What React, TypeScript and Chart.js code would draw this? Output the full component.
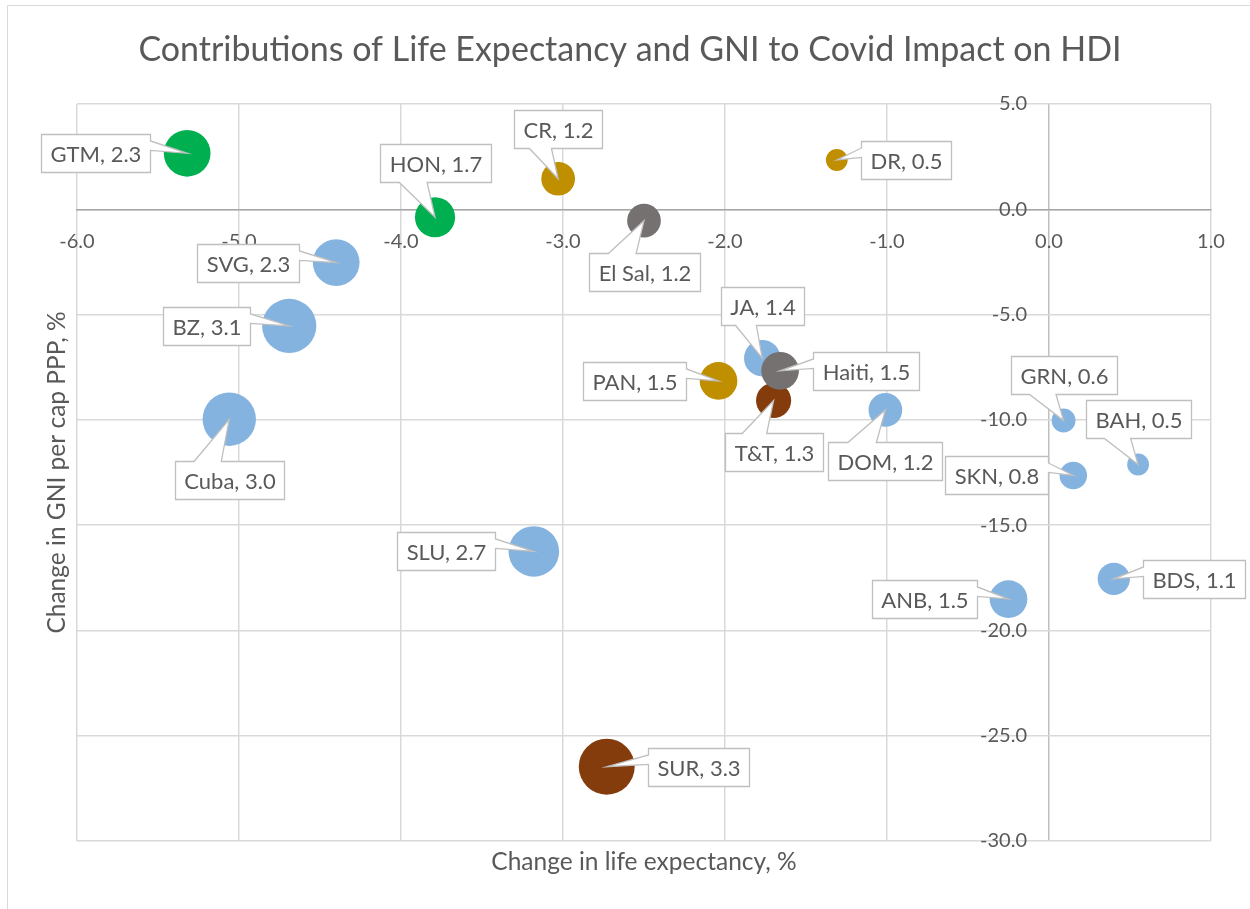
import React, { useEffect, useRef } from 'react';
import { Chart, registerables } from 'chart.js';

Chart.register(...registerables);

// ---- Data ----
const countries = ['GTM', 'HON', 'SVG', 'BZ', 'Cuba', 'SLU', 'SUR', 'CR', 'DR', 'El Sal', 'JA', 'Haiti', 'PAN', 'T&T', 'DOM', 'GRN', 'BAH', 'SKN', 'BDS', 'ANB'];
const lifeExpChange = [-5.32, -3.79, -4.40, -4.69, -5.06, -3.18, -2.73, -3.03, -1.31, -2.50, -1.77, -1.66, -2.04, -1.70, -1.01, 0.09, 0.55, 0.15, 0.40, -0.25];
const gniChange = [2.66, -0.38, -2.53, -5.54, -9.97, -16.25, -26.47, 1.45, 2.34, -0.54, -7.07, -7.67, -8.15, -9.08, -9.53, -10.03, -12.12, -12.64, -17.55, -18.51];
const hdiImpact = [2.3, 1.7, 2.3, 3.1, 3.0, 2.7, 3.3, 1.2, 0.5, 1.2, 1.4, 1.5, 1.5, 1.3, 1.2, 0.6, 0.5, 0.8, 1.1, 1.5];
const groups = ['G2', 'G2', 'G1', 'G1', 'G1', 'G1', 'G4', 'G3', 'G3', 'G5', 'G1', 'G5', 'G3', 'G4', 'G1', 'G1', 'G1', 'G1', 'G1', 'G1'];
const xTickLabels = ['-6.0', '-5.0', '-4.0', '-3.0', '-2.0', '-1.0', '0.0', '1.0'];

const TITLE = 'Contributions of Life Expectancy and GNI to Covid Impact on HDI';
const X_TITLE = 'Change in life expectancy, %';
const Y_TITLE = 'Change in GNI per cap PPP, %';

// ---- Styles / layout ----
const groupOrder = ['G5', 'G4', 'G3', 'G2', 'G1']; // first drawn on top
const groupColors: Record<string, string> = {
  G1: '#85B3E0',
  G2: '#00B050',
  G3: '#BF8F00',
  G4: '#843C0C',
  G5: '#767171',
};
// callout box centre offset from bubble centre, in pixels
const labelOffsets: [number, number][] = [
  [-92, 0], [0, -54], [-88, 0], [-83, 0], [0, 61], [-88, 0], [92, 0], [0, -50], [69, 0], [0, 51],
  [0, -52], [86, 0], [-84, 0], [0, 52], [0, 51], [0, -45], [0, -45], [-77, 0], [80, 0], [-84, 0],
];
const BUBBLE_K = 15.4;
const FONT = 'Lato, "Open Sans", sans-serif';
const TEXT = '#595959';

const calloutPlugin = {
  id: 'callouts',
  beforeDraw(chart: any) {
    const ctx = chart.ctx;
    ctx.save();
    ctx.fillStyle = '#ffffff';
    ctx.fillRect(0, 0, chart.width, chart.height);
    ctx.strokeStyle = '#d9d9d9';
    ctx.lineWidth = 1;
    ctx.beginPath();
    ctx.moveTo(7.5, chart.height);
    ctx.lineTo(7.5, 5.5);
    ctx.lineTo(chart.width, 5.5);
    ctx.stroke();
    ctx.restore();
  },
  afterDraw(chart: any) {
    const ctx = chart.ctx;
    const area = chart.chartArea;
    ctx.save();
    ctx.fillStyle = TEXT;
    ctx.textAlign = 'center';
    ctx.textBaseline = 'alphabetic';
    ctx.font = `34px ${FONT}`;
    ctx.fillText(TITLE, 630, 61);
    ctx.textBaseline = 'middle';
    ctx.font = `24.5px ${FONT}`;
    ctx.fillText(X_TITLE, (area.left + area.right) / 2, 862);
    ctx.translate(57, (area.top + area.bottom) / 2);
    ctx.rotate(-Math.PI / 2);
    ctx.fillText(Y_TITLE, 0, 0);
    ctx.restore();
  },
  afterDatasetsDraw(chart: any) {
    const ctx = chart.ctx;
    ctx.save();
    ctx.font = `22px ${FONT}`;
    chart.data.datasets.forEach((ds: any, di: number) => {
      const meta = chart.getDatasetMeta(di);
      meta.data.forEach((el: any, j: number) => {
        const i = ds.data[j].idx;
        const text = `${countries[i]}, ${hdiImpact[i].toFixed(1)}`;
        const [dx, dy] = labelOffsets[i];
        const px = el.x;
        const py = el.y;
        const tw = ctx.measureText(text).width;
        const w = Math.round(tw + 18);
        const h = 38;
        const l = Math.round(px + dx - w / 2) + 0.5;
        const t = Math.round(py + dy - h / 2) + 0.5;
        const r = l + w;
        const b = t + h;
        const horiz = Math.abs(dx) > Math.abs(dy);
        ctx.beginPath();
        ctx.moveTo(l, t);
        if (!horiz && dy > 0) {
          ctx.lineTo(l + w * 0.17, t);
          ctx.lineTo(px, py);
          ctx.lineTo(l + w * 0.42, t);
        }
        ctx.lineTo(r, t);
        if (horiz && dx < 0) {
          ctx.lineTo(r, t + h * 0.17);
          ctx.lineTo(px, py);
          ctx.lineTo(r, t + h * 0.42);
        }
        ctx.lineTo(r, b);
        if (!horiz && dy < 0) {
          ctx.lineTo(l + w * 0.42, b);
          ctx.lineTo(px, py);
          ctx.lineTo(l + w * 0.17, b);
        }
        ctx.lineTo(l, b);
        if (horiz && dx > 0) {
          ctx.lineTo(l, t + h * 0.42);
          ctx.lineTo(px, py);
          ctx.lineTo(l, t + h * 0.17);
        }
        ctx.closePath();
        ctx.fillStyle = '#ffffff';
        ctx.fill();
        ctx.strokeStyle = '#bfbfbf';
        ctx.lineWidth = 1.3;
        ctx.stroke();
        ctx.fillStyle = TEXT;
        ctx.textAlign = 'center';
        ctx.textBaseline = 'middle';
        ctx.fillText(text, (l + r) / 2, (t + b) / 2 + 1);
      });
    });
    ctx.restore();
  },
};

export default function App() {
  const ref = useRef<HTMLCanvasElement | null>(null);

  useEffect(() => {
    if (!ref.current) return;
    const datasets = groupOrder.map((g) => ({
      label: g,
      data: countries
        .map((_, i) => i)
        .filter((i) => groups[i] === g)
        .map((i) => ({ x: lifeExpChange[i], y: gniChange[i], r: BUBBLE_K * Math.sqrt(hdiImpact[i]), idx: i })),
      backgroundColor: groupColors[g],
      borderColor: groupColors[g],
      borderWidth: 0,
      hoverRadius: 0,
    }));

    const chart = new Chart(ref.current, {
      type: 'bubble',
      data: { datasets },
      options: {
        responsive: false,
        animation: false,
        events: [],
        layout: { padding: { left: 77, right: 39, top: 104, bottom: 68 }, autoPadding: false },
        plugins: {
          legend: { display: false },
          title: { display: false },
          tooltip: { enabled: false },
        },
        scales: {
          x: {
            type: 'linear',
            min: -6,
            max: 1,
            position: { y: 0 },
            ticks: {
              stepSize: 1,
              padding: 20,
              color: TEXT,
              font: { family: FONT, size: 20 },
              callback: (v: any, idx: number) => xTickLabels[idx] ?? Number(v).toFixed(1),
            },
            grid: {
              color: (c: any) => (c.tick && c.tick.value === 0 ? '#bfbfbf' : '#d9d9d9'),
              lineWidth: 1.5,
              drawTicks: false,
            },
            border: { display: true, color: '#a6a6a6', width: 1.5 },
          },
          y: {
            type: 'linear',
            min: -30,
            max: 5,
            position: { x: -0.1358 },
            ticks: {
              stepSize: 5,
              color: TEXT,
              font: { family: FONT, size: 20 },
              callback: (v: any) => Number(v).toFixed(1),
            },
            grid: { color: '#d9d9d9', lineWidth: 1.5, drawTicks: false },
            border: { display: false },
          },
        },
      },
      plugins: [calloutPlugin],
    } as any);
    return () => chart.destroy();
  }, []);

  return (
    <div style={{ position: 'absolute', left: 0, top: 0, width: 1250, height: 909, background: '#fff' }}>
      <canvas ref={ref} width={1250} height={909} style={{ width: 1250, height: 909, display: 'block' }} />
    </div>
  );
}
